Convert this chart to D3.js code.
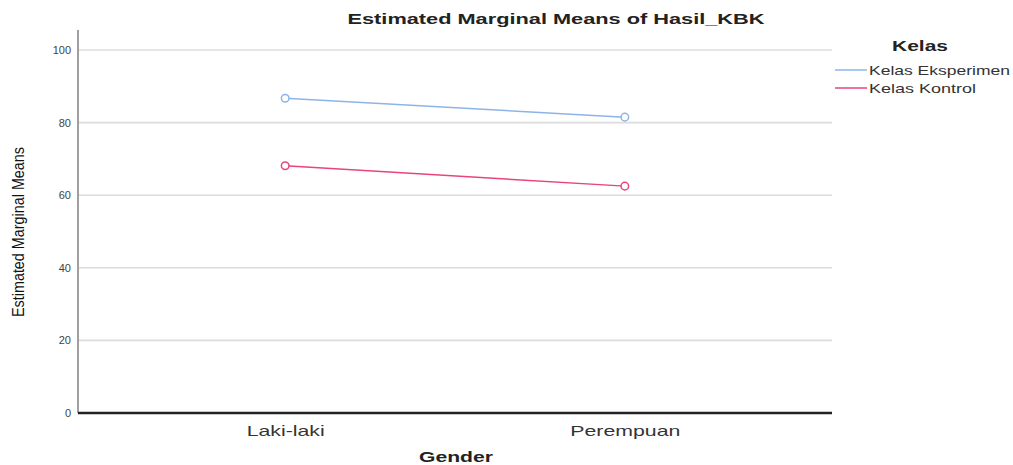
<!DOCTYPE html>
<html><head><meta charset="utf-8">
<script src="https://cdn.jsdelivr.net/npm/d3@7/dist/d3.min.js"></script>
<style>body{margin:0;background:#fff}svg{display:block}</style>
</head><body><svg id="c" width="1013" height="465"></svg>
<script>
const categories = ["Laki-laki", "Perempuan"];
const seriesNames = ["Kelas Eksperimen", "Kelas Kontrol"];
const eksperimen = [86.7, 81.5];
const kontrol = [68.1, 62.5];
const yTicks = [0, 20, 40, 60, 80, 100];
const colors = ["#8db4ea", "#e8457a"];

const svg = d3.select("#c");
const L = 78, R = 832, T = 30, B = 413;
const x = d3.scalePoint().domain(categories).range([L, R]).padding(0.61);
const y = d3.scaleLinear().domain([0, 100]).range([B, 50]);

// gridlines
svg.append("g").selectAll("line").data(yTicks.filter(d => d > 0)).join("line")
  .attr("x1", L + 1).attr("x2", R).attr("y1", d => y(d)).attr("y2", d => y(d))
  .attr("stroke", "#dcdcdc").attr("stroke-width", 1.6);

// y axis
const ya = svg.append("g").attr("transform", `translate(${L},0)`)
  .call(d3.axisLeft(y).tickValues(yTicks).tickSize(0).tickPadding(7));
ya.select(".domain").remove();
ya.selectAll("text").attr("font-family", "Liberation Sans, Arial, sans-serif")
  .attr("font-size", 11).attr("fill", "#444");
svg.append("line").attr("x1", L).attr("x2", L).attr("y1", T).attr("y2", B)
  .attr("stroke", "#777").attr("stroke-width", 1.4);

// x axis
const xa = svg.append("g").attr("transform", `translate(0,${B})`)
  .call(d3.axisBottom(x).tickSize(0).tickPadding(12));
xa.select(".domain").remove();
xa.selectAll("text").attr("font-family", "Liberation Sans, Arial, sans-serif")
  .attr("font-size", 15).attr("fill", "#333")
  .attr("textLength", (d, i) => i === 0 ? 78 : 110).attr("lengthAdjust", "spacingAndGlyphs");
svg.append("line").attr("x1", L).attr("x2", R).attr("y1", B).attr("y2", B)
  .attr("stroke", "#222").attr("stroke-width", 2.6);

// series
const series = [eksperimen, kontrol];
const line = d3.line().x((d, i) => x(categories[i])).y(d => y(d));
series.forEach((vals, si) => {
  svg.append("path").datum(vals).attr("d", line).attr("fill", "none")
    .attr("stroke", colors[si]).attr("stroke-width", 1.5);
  svg.append("g").selectAll("circle").data(vals).join("circle")
    .attr("cx", (d, i) => x(categories[i])).attr("cy", d => y(d)).attr("r", 3.8)
    .attr("fill", "#fff").attr("stroke", colors[si]).attr("stroke-width", 1.5);
});

// title
svg.append("text").attr("x", 556).attr("y", 24).attr("text-anchor", "middle")
  .attr("font-family", "Liberation Sans, Arial, sans-serif").attr("font-weight", "bold")
  .attr("font-size", 15).attr("fill", "#222")
  .attr("textLength", 417).attr("lengthAdjust", "spacingAndGlyphs")
  .text("Estimated Marginal Means of Hasil_KBK");

// y label
svg.append("text").attr("transform", `translate(24,${232}) rotate(-90)`).attr("text-anchor", "middle")
  .attr("font-family", "Liberation Sans Narrow, Liberation Sans, Arial, sans-serif")
  .attr("font-size", 16).attr("fill", "#111")
  .attr("textLength", 170).attr("lengthAdjust", "spacingAndGlyphs")
  .text("Estimated Marginal Means");

// x label
svg.append("text").attr("x", 456).attr("y", 462).attr("text-anchor", "middle")
  .attr("font-family", "Liberation Sans, Arial, sans-serif").attr("font-weight", "bold")
  .attr("font-size", 14).attr("fill", "#222")
  .attr("textLength", 74).attr("lengthAdjust", "spacingAndGlyphs")
  .text("Gender");

// legend
svg.append("text").attr("x", 920).attr("y", 51).attr("text-anchor", "middle")
  .attr("font-family", "Liberation Sans, Arial, sans-serif").attr("font-weight", "bold")
  .attr("font-size", 15).attr("fill", "#222")
  .attr("textLength", 56).attr("lengthAdjust", "spacingAndGlyphs")
  .text("Kelas");
const lg = svg.append("g").selectAll("g").data(seriesNames).join("g")
  .attr("transform", (d, i) => `translate(835,${70 + i * 18})`);
lg.append("line").attr("x1", 0).attr("x2", 32).attr("stroke", (d, i) => colors[i]).attr("stroke-width", 1.5);
lg.append("text").attr("x", 34).attr("y", 4.5)
  .attr("font-family", "Liberation Sans, Arial, sans-serif").attr("font-size", 13).attr("fill", "#333")
  .attr("textLength", (d, i) => i === 0 ? 141 : 107).attr("lengthAdjust", "spacingAndGlyphs")
  .text(d => d);
</script></body></html>
